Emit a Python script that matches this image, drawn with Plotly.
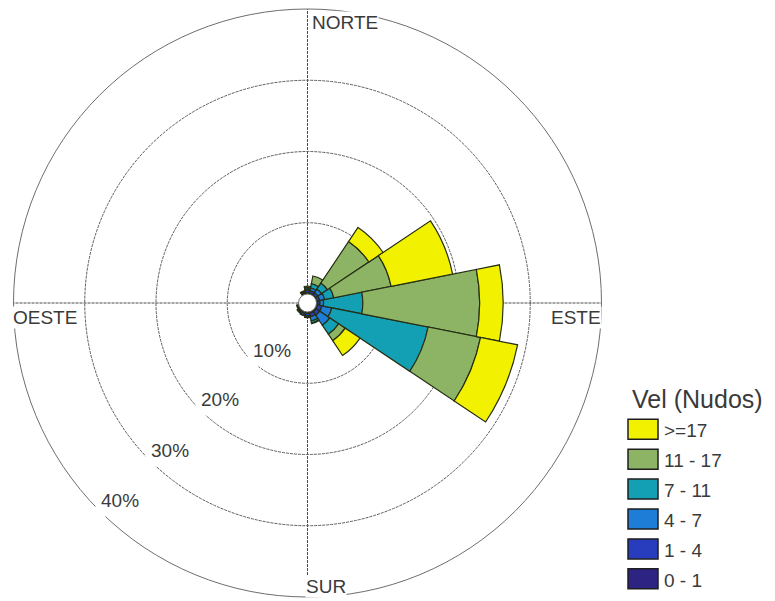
import math
import plotly.graph_objects as go

# Wind-rose frequencies (% of observations) per direction and speed class
directions = ["N", "NNE", "NE", "ENE", "E", "ESE", "SE", "SSE",
              "S", "SSW", "SW", "WSW", "W", "WNW", "NW", "NNW"]
dir_angles = [i * 22.5 for i in range(16)]

speed_labels = ["0 - 1", "1 - 4", "4 - 7", "7 - 11", "11 - 17", ">=17"]
speed_colors = ["#2d2382", "#283cbe", "#1e7dd7", "#14a0b4", "#8cb464", "#f2f200"]

freq_0_1 = [0.2, 0.2, 0.1, 0.1, 0.2, 0.2, 0.2, 0.2, 0.2, 0.2, 0.2, 0.2, 0.0, 0.0, 0.0, 0.1]
freq_1_4 = [0.3, 0.3, 0.4, 0.4, 0.3, 0.6, 0.6, 0.5, 0.3, 0.3, 0.2, 0.1, 0.0, 0.0, 0.0, 0.1]
freq_4_7 = [0.2, 0.4, 0.6, 0.7, 0.5, 1.4, 1.7, 0.6, 0.2, 0.1, 0.1, 0.0, 0.0, 0.0, 0.0, 0.1]
freq_7_11 = [0.2, 0.6, 1.0, 1.3, 5.5, 13.8, 1.5, 0.3, 0.1, 0.0, 0.0, 0.0, 0.0, 0.0, 0.0, 0.1]
freq_11_17 = [0.2, 1.1, 7.0, 8.2, 16.4, 7.5, 1.1, 0.1, 0.0, 0.0, 0.0, 0.0, 0.0, 0.0, 0.0, 0.1]
freq_17_up = [0.0, 0.0, 2.4, 8.8, 3.3, 5.3, 2.5, 0.0, 0.0, 0.0, 0.0, 0.0, 0.0, 0.0, 0.0, 0.0]
speed_freqs = [freq_0_1, freq_1_4, freq_4_7, freq_7_11, freq_11_17, freq_17_up]

ring_values = [10, 20, 30, 40]
ring_labels = ["10%", "20%", "30%", "40%"]
cardinal_labels = ["NORTE", "ESTE", "SUR", "OESTE"]

# Canvas / polar geometry (pixels)
W, H = 775, 601
CX, CY, R = 307.5, 303.0, 294.0
HOLE_PX = 9.0
RMAX = 40.0
FONT = "Liberation Sans, Arial, sans-serif"
TEXT_COLOR = "#3a3a3a"
GRID_COLOR = "#5c5c5c"
RING_LABEL_THETA = [217.0, 222.0, 223.0, 223.5]


def paper(xpx, ypx):
    return xpx / W, 1 - ypx / H


def polar_to_paper(r, theta_deg):
    rad = HOLE_PX + (R - HOLE_PX) * r / RMAX
    t = math.radians(theta_deg)
    return paper(CX + rad * math.sin(t), CY - rad * math.cos(t))


fig = go.Figure()
for label, color, vals in zip(speed_labels, speed_colors, speed_freqs):
    # empty speed classes are left out so no outline is drawn for them
    r_vals = [v if v > 0 else None for v in vals]
    fig.add_trace(go.Barpolar(
        r=r_vals, theta=dir_angles, width=22.5, name=label,
        marker=dict(color=color, line=dict(color="#262e14", width=1.2)),
        showlegend=False,
    ))

annotations = []
# ring labels, with a white box that breaks the ring line
for val, txt, th in zip(ring_values, ring_labels, RING_LABEL_THETA):
    x, y = polar_to_paper(val - 3.0, th)
    annotations.append(dict(x=x, y=y, xref="paper", yref="paper", text=txt,
                            xanchor="center", yanchor="middle",
                            showarrow=False, bgcolor="white", borderpad=5,
                            font=dict(family=FONT, size=19, color=TEXT_COLOR)))

# cardinal direction labels
card_pos = [(311, 22.5, "left"), (602, 317.5, "right"), (305, 586, "left"), (12, 317.5, "left")]
for txt, (xp, yp, anchor) in zip(cardinal_labels, card_pos):
    x, y = paper(xp, yp)
    annotations.append(dict(x=x, y=y, xref="paper", yref="paper", text=txt,
                            showarrow=False, xanchor=anchor, yanchor="middle",
                            bgcolor="white", borderpad=0,
                            font=dict(family=FONT, size=19, color=TEXT_COLOR)))

# legend drawn as boxes + labels
shapes = []
lx, ly = paper(630, 399)
annotations.append(dict(x=lx, y=ly, xref="paper", yref="paper", text="Vel (Nudos)",
                        showarrow=False, xanchor="left", yanchor="middle",
                        font=dict(family=FONT, size=25, color=TEXT_COLOR)))
row_y0, row_step = 429.3, 29.9
for k, (label, color) in enumerate(zip(speed_labels[::-1], speed_colors[::-1])):
    yc = row_y0 + k * row_step
    x0, y0 = paper(628, yc + 10)
    x1, y1 = paper(658, yc - 10)
    shapes.append(dict(type="rect", xref="paper", yref="paper", x0=x0, y0=y0, x1=x1, y1=y1,
                       fillcolor=color, line=dict(color="#1e1e1e", width=1.5)))
    tx, ty = paper(662, yc + 1.5)
    annotations.append(dict(x=tx, y=ty, xref="paper", yref="paper", text=label,
                            showarrow=False, xanchor="left", yanchor="middle",
                            font=dict(family=FONT, size=19, color=TEXT_COLOR)))

dx0, dy1 = paper(CX - R, CY - R)
dx1, dy0 = paper(CX + R, CY + R)
fig.update_layout(
    width=W, height=H, autosize=False,
    margin=dict(l=0, r=0, t=0, b=0),
    paper_bgcolor="white",
    font=dict(family=FONT),
    polar=dict(
        domain=dict(x=[dx0, dx1], y=[dy0, dy1]),
        bgcolor="white",
        hole=HOLE_PX / R,
        barmode="stack",
        radialaxis=dict(range=[0, RMAX], tickvals=ring_values, showticklabels=False,
                        ticks="", showline=False, gridcolor=GRID_COLOR, gridwidth=1,
                        griddash="3px,1px"),
        angularaxis=dict(rotation=90, direction="clockwise", tickvals=[0, 90, 180, 270],
                         showticklabels=False, ticks="", showline=True,
                         linecolor="#6e6e6e", linewidth=1,
                         gridcolor="#4a4a4a", gridwidth=1, griddash="3px,1px"),
    ),
    shapes=shapes,
    annotations=annotations,
)

fig.write_html("out.html")
